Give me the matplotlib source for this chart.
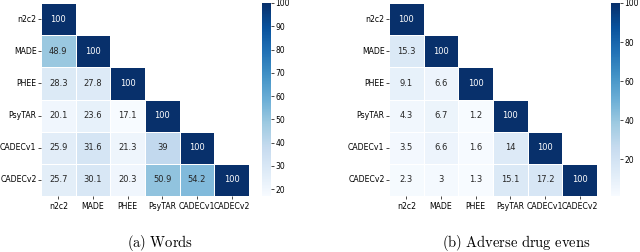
import numpy as np
import matplotlib
matplotlib.use('Agg')
import matplotlib.pyplot as plt
import seaborn as sns

plt.rcParams['mathtext.fontset'] = 'cm'

datasets = ['n2c2', 'MADE', 'PHEE', 'PsyTAR', 'CADECv1', 'CADECv2']

# overlap (%) lower triangle, row by row
words = [
    [100, 0, 0, 0, 0, 0],
    [48.9, 100, 0, 0, 0, 0],
    [28.3, 27.8, 100, 0, 0, 0],
    [20.1, 23.6, 17.1, 100, 0, 0],
    [25.9, 31.6, 21.3, 39, 100, 0],
    [25.7, 30.1, 20.3, 50.9, 54.2, 100],
]
ade = [
    [100, 0, 0, 0, 0, 0],
    [15.3, 100, 0, 0, 0, 0],
    [9.1, 6.6, 100, 0, 0, 0],
    [4.3, 6.7, 1.2, 100, 0, 0],
    [3.5, 6.6, 1.6, 14, 100, 0],
    [2.3, 3, 1.3, 15.1, 17.2, 100],
]
captions = [r'$\mathrm{(a)\ Words}$', r'$\mathrm{(b)\ Adverse\ drug\ evens}$']

fig = plt.figure(figsize=(6.4, 2.52), dpi=100)

mask = np.triu(np.ones((6, 6), dtype=bool), k=1)
bottom = 1 - 196 / 252
height = 193 / 252
layout = [(41, 262, 160), (389, 611, 516)]

for data, cap, (x0, cx, tx) in zip([words, ade], captions, layout):
    arr = np.array(data, dtype=float)
    ax = fig.add_axes([x0 / 640, bottom, 208 / 640, height])
    cax = fig.add_axes([cx / 640, bottom, 9 / 640, height])
    vmin = arr[~mask].min()
    sns.heatmap(arr, mask=mask, cmap='Blues', vmin=vmin, vmax=100,
                annot=True, fmt='g', annot_kws={'size': 6},
                linewidths=0.5, linecolor='white',
                xticklabels=datasets, yticklabels=datasets,
                ax=ax, cbar_ax=cax)
    ax.tick_params(labelsize=5.6, length=2, width=0.5)
    ax.tick_params(axis='y', pad=1.2)
    ax.tick_params(axis='x', pad=2)
    ax.set_yticklabels(datasets, rotation=0)
    ax.set_xticklabels(datasets, rotation=0)
    cax.tick_params(labelsize=5.5, length=2, width=0.5, pad=1)
    cax.set_frame_on(False)
    fig.text(tx / 640, 0.035, cap, ha='center', va='center', fontsize=10.5)

fig.savefig('out.png', dpi=100)
